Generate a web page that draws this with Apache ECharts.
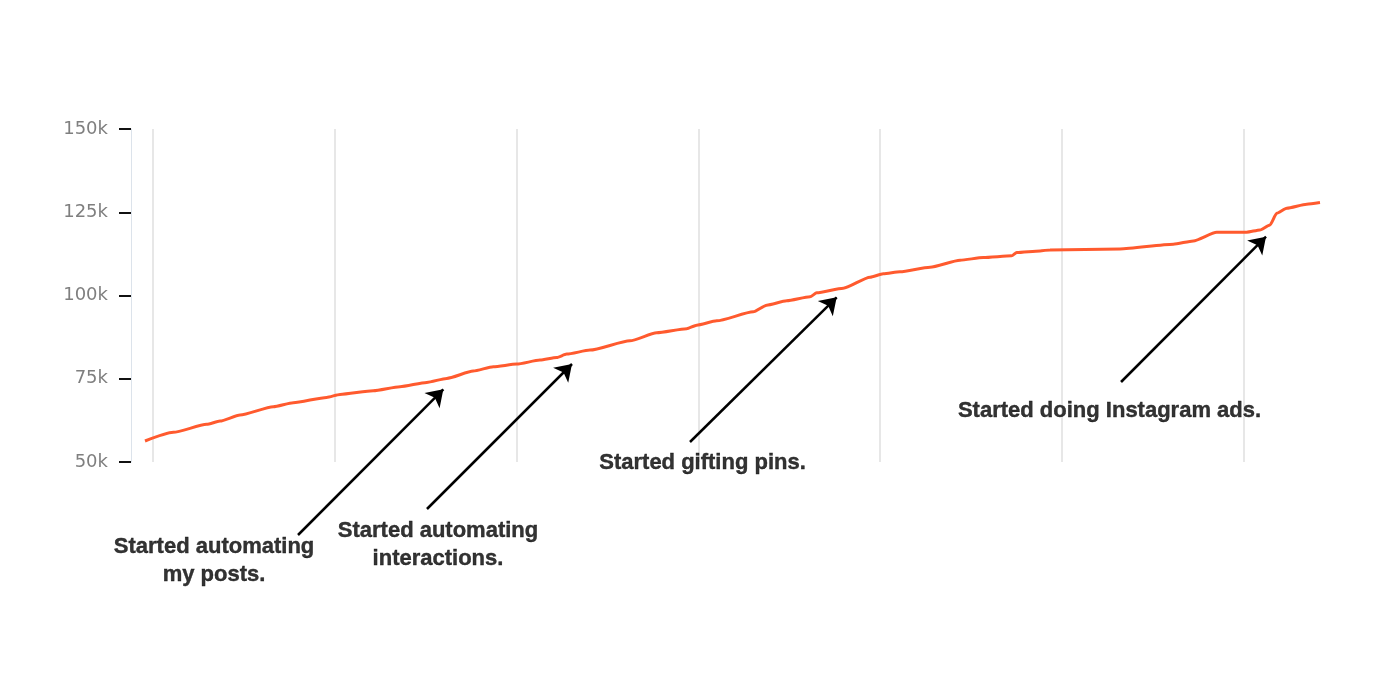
<!DOCTYPE html>
<html>
<head>
<meta charset="utf-8">
<script src="https://cdn.jsdelivr.net/npm/echarts@6/dist/echarts.min.js"></script>
<style>
html,body{margin:0;padding:0;background:#fff;}
#chart{width:1400px;height:684px;}
</style>
</head>
<body>
<div id="chart"></div>
<script>
// Day index (0 = first vertical gridline, gridlines every 30 days)
const days = [-1.32, 3.35, 8.86, 11.06, 14.36, 19.85, 23.15, 28.66, 30.86, 36.35, 40.76, 45.17, 48.47, 52.85, 56.16, 60.02, 63.86, 66.62, 68.27, 72.11, 78.71, 83.12, 88.07, 89.72, 93.02, 99.06, 101.27, 104.57, 108.42, 109.52, 113.91, 118.32, 120.51, 123.27, 128.22, 133.17, 137.01, 141.70, 142.52, 146.37, 148.02, 159.57, 168.37, 171.67, 175.53, 180.48, 182.67, 184.32, 185.43, 187.08, 190.38, 192.57];
// Follower counts
const followers = [56300, 58900, 61300, 62300, 64100, 66600, 67800, 69400, 70300, 71400, 72600, 73900, 75100, 77300, 78600, 79400, 80600, 81400, 82400, 83600, 86400, 88800, 90000, 91100, 92400, 95100, 97100, 98400, 99600, 100800, 102200, 105500, 106500, 107100, 108500, 110600, 111400, 111900, 112900, 113400, 113700, 114000, 115400, 116400, 119000, 119000, 119700, 121200, 124700, 126200, 127400, 127900];

const yTicks = [50000, 75000, 100000, 125000, 150000];
const gridDays = [0, 30, 60, 90, 120, 150, 180];

// Annotations
const annoTexts = ['Started automating\nmy posts.', 'Started automating\ninteractions.', 'Started gifting pins.', 'Started doing Instagram ads.'];
const annoTextPos = [[10.07, 20270], [47.03, 25225], [90.68, 49700], [157.84, 65315]];
const arrowTail = [[23.93, 28078], [45.21, 35886], [88.61, 56006], [159.74, 74024]];
const arrowHead = [[47.91, 71832], [69.14, 79430], [112.82, 99460], [183.66, 117658]];

const lineData = days.map((d, i) => [d, followers[i]]);
const arrowData = arrowTail.map((t, i) => ({ coords: [t, arrowHead[i]] }));
const textData = annoTexts.map((t, i) => ({ name: t, value: annoTextPos[i] }));

const chart = echarts.init(document.getElementById('chart'));
chart.setOption({
  animation: false,
  backgroundColor: '#ffffff',
  grid: { left: 131, right: 77.4, top: 129, bottom: 222 },
  xAxis: {
    type: 'value',
    min: -3.63, max: 193,
    axisLine: { show: false, onZero: false },
    axisTick: { show: false },
    axisLabel: { show: false },
    splitLine: { show: false }
  },
  yAxis: {
    type: 'value',
    position: 'left',
    min: yTicks[0], max: yTicks[yTicks.length - 1], interval: 25000,
    axisLine: { show: true, onZero: false, lineStyle: { color: '#dce3eb', width: 1 } },
    axisTick: { show: true, inside: false, length: 12, lineStyle: { color: '#111111', width: 2 } },
    axisLabel: {
      margin: 23,
      color: '#7f7f7f',
      fontSize: 18,
      fontFamily: 'DejaVu Sans',
      padding: [9, 0, 0, 0],
      formatter: v => (v / 1000) + 'k'
    },
    splitLine: { show: false }
  },
  series: [
    {
      type: 'line',
      data: lineData,
      showSymbol: false,
      smooth: 0.2,
      smoothMonotone: 'x',
      z: 3,
      lineStyle: { color: '#ff5a2e', width: 3 },
      itemStyle: { color: '#ff5a2e' },
      markLine: {
        silent: true,
        z: 1,
        symbol: ['none', 'none'],
        label: { show: false },
        lineStyle: { color: '#e7e7e7', width: 2, type: 'solid' },
        emphasis: { disabled: true },
        data: gridDays.map(d => ({ xAxis: d }))
      }
    },
    {
      type: 'lines',
      coordinateSystem: 'cartesian2d',
      clip: false,
      z: 4,
      data: arrowData,
      symbol: ['none', 'arrow'],
      symbolSize: [11, 16],
      lineStyle: { color: '#000000', width: 2.5, opacity: 1 },
      effect: { show: false }
    },
    {
      type: 'scatter',
      clip: false,
      z: 5,
      data: textData,
      symbolSize: 0,
      itemStyle: { color: 'rgba(0,0,0,0)' },
      label: {
        show: true,
        position: 'inside',
        formatter: p => p.name,
        color: '#000000',
        textBorderColor: '#000000',
        textBorderWidth: 0.4,
        fontSize: 22,
        fontWeight: 'bold',
        fontFamily: 'Liberation Sans',
        lineHeight: 28,
        align: 'center'
      }
    }
  ]
});
</script>
</body>
</html>
